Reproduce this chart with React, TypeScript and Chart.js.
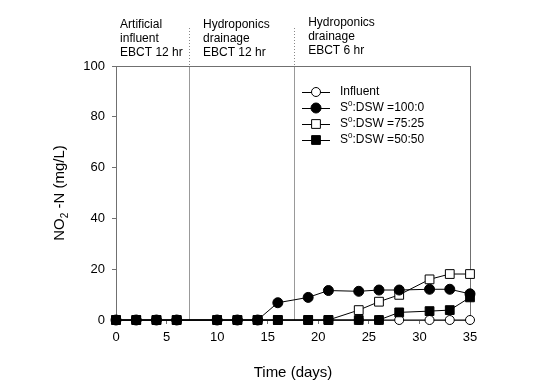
import React, { useEffect, useRef } from "react";
import { Chart, registerables } from "chart.js";

Chart.register(...registerables);

const days = [0, 2, 4, 6, 10, 12, 14, 16, 19, 21, 24, 26, 28, 31, 33, 35];
const influent = [0, 0, 0, 0, 0, 0, 0, 0, 0, 0, 0, 0, 0, 0, 0, 0];
const ratio100 = [0, 0, 0, 0, 0, 0, 0, 6.8, 8.9, 11.6, 11.3, 11.8, 11.8, 12.1, 12.1, 10.3];
const ratio75 = [0, 0, 0, 0, 0, 0, 0, 0, 0, 0, 3.9, 7.2, 9.9, 16.0, 18.1, 18.1];
const ratio50 = [0, 0, 0, 0, 0, 0, 0, 0, 0, 0, 0, 0, 3.0, 3.5, 3.9, 8.9];

const seriesLabels = ["Influent", "S⁰:DSW =100:0", "S⁰:DSW =75:25", "S⁰:DSW =50:50"];
const xTicks = [0, 5, 10, 15, 20, 25, 30, 35];
const yTicks = [0, 20, 40, 60, 80, 100];
const phaseBoundaries = [7.2, 17.6];
const phaseLabels = [
  ["Artificial", "influent", "EBCT 12 hr"],
  ["Hydroponics", "drainage", "EBCT 12 hr"],
  ["Hydroponics", "drainage", "EBCT 6 hr"],
];
const phaseLabelDays = [0.4, 8.6, 19.0];

const FONT = "'Liberation Sans', Arial, sans-serif";

const pts = (ys: number[]) => days.map((d, i) => ({ x: d, y: ys[i] }));

const styles = [
  { pointStyle: "circle", fill: "#ffffff", radius: 4.5 },
  { pointStyle: "circle", fill: "#000000", radius: 5 },
  { pointStyle: "rect", fill: "#ffffff", radius: 6.2 },
  { pointStyle: "rect", fill: "#000000", radius: 6.2 },
];

function drawLabelWithSup(ctx: CanvasRenderingContext2D, text: string, x: number, y: number, size: number) {
  const parts = text.split("⁰");
  let cx = x;
  parts.forEach((p, i) => {
    ctx.font = `${size}px ${FONT}`;
    ctx.textBaseline = "middle";
    ctx.fillText(p, cx, y);
    cx += ctx.measureText(p).width;
    if (i < parts.length - 1) {
      ctx.font = `${Math.round(size * 0.65)}px ${FONT}`;
      ctx.fillText("0", cx, y - size * 0.35);
      cx += ctx.measureText("0").width;
    }
  });
}

const decorPlugin = {
  id: "decor",
  beforeDatasetsDraw(chart: any) {
    const { ctx, chartArea, scales } = chart;
    const xs = scales.x;
    ctx.save();
    phaseBoundaries.forEach((d) => {
      const px = Math.round(xs.getPixelForValue(d)) + 0.5;
      ctx.strokeStyle = "#999999";
      ctx.lineWidth = 1;
      ctx.setLineDash([]);
      ctx.beginPath();
      ctx.moveTo(px, chartArea.top);
      ctx.lineTo(px, chartArea.bottom);
      ctx.stroke();
      ctx.strokeStyle = "#888888";
      ctx.setLineDash([1, 2]);
      ctx.beginPath();
      ctx.moveTo(px, 28);
      ctx.lineTo(px, chartArea.top);
      ctx.stroke();
    });
    ctx.setLineDash([]);
    ctx.strokeStyle = "#707070";
    ctx.lineWidth = 1;
    ctx.strokeRect(
      Math.round(chartArea.left) + 0.5,
      Math.round(chartArea.top) + 0.5,
      Math.round(chartArea.right - chartArea.left),
      Math.round(chartArea.bottom - chartArea.top)
    );
    ctx.restore();
  },
  afterDraw(chart: any) {
    const { ctx, chartArea, scales } = chart;
    const xs = scales.x;
    ctx.save();
    ctx.fillStyle = "#000000";
    ctx.font = `12px ${FONT}`;
    ctx.textAlign = "left";
    ctx.textBaseline = "middle";
    phaseLabels.forEach((lines, i) => {
      const px = xs.getPixelForValue(phaseLabelDays[i]);
      const y0 = i === 2 ? 23 : 25;
      lines.forEach((t, j) => ctx.fillText(t, px, y0 + j * 14));
    });
    ctx.font = `15px ${FONT}`;
    ctx.textAlign = "center";
    ctx.fillText("Time (days)", (chartArea.left + chartArea.right) / 2, 373);
    ctx.translate(60, (chartArea.top + chartArea.bottom) / 2);
    ctx.rotate(-Math.PI / 2);
    const big = `15px ${FONT}`;
    const small = `10px ${FONT}`;
    const segs = [
      { t: "NO", f: big, dy: 0 },
      { t: "2", f: small, dy: 5 },
      { t: " -N (mg/L)", f: big, dy: 0 },
    ];
    let total = 0;
    segs.forEach((s) => {
      ctx.font = s.f;
      total += ctx.measureText(s.t).width;
    });
    let cx = -total / 2;
    ctx.textAlign = "left";
    segs.forEach((s) => {
      ctx.font = s.f;
      ctx.fillText(s.t, cx, s.dy);
      cx += ctx.measureText(s.t).width;
    });
    ctx.restore();

    ctx.save();
    const rows = [92, 108, 124, 140];
    seriesLabels.forEach((lab, i) => {
      const y = rows[i];
      ctx.strokeStyle = "#000000";
      ctx.lineWidth = 1;
      ctx.beginPath();
      ctx.moveTo(302, y + 0.5);
      ctx.lineTo(330, y + 0.5);
      ctx.stroke();
      const st = styles[i];
      ctx.fillStyle = st.fill;
      ctx.beginPath();
      if (st.pointStyle === "circle") {
        ctx.arc(316, y, st.radius, 0, Math.PI * 2);
      } else {
        const s = st.radius * Math.SQRT1_2;
        ctx.rect(316 - s, y - s, 2 * s, 2 * s);
      }
      ctx.fill();
      ctx.stroke();
      ctx.fillStyle = "#000000";
      drawLabelWithSup(ctx, lab, 340, y, 12);
    });
    ctx.restore();
  },
};

export default function App() {
  const ref = useRef<HTMLCanvasElement | null>(null);
  useEffect(() => {
    document.body.style.margin = "0";
    Chart.defaults.font.family = FONT;
    const seriesData = [influent, ratio100, ratio75, ratio50];
    const orders = [3, 0, 2, 1];
    const chart = new Chart(ref.current as HTMLCanvasElement, {
      type: "line",
      data: {
        datasets: seriesData.map((ys, i) => ({
          label: seriesLabels[i],
          data: pts(ys),
          order: orders[i],
          clip: false as any,
          borderColor: "#000000",
          borderWidth: 1,
          pointStyle: styles[i].pointStyle as any,
          pointRadius: styles[i].radius,
          pointBackgroundColor: styles[i].fill,
          pointBorderColor: "#000000",
          pointBorderWidth: 1,
          fill: false,
          tension: 0,
        })),
      },
      options: {
        responsive: false,
        animation: false,
        events: [],
        layout: { padding: { left: 0, right: 64, top: 66, bottom: 0 } },
        plugins: { legend: { display: false }, tooltip: { enabled: false }, title: { display: false } },
        scales: {
          x: {
            type: "linear",
            min: 0,
            max: 35,
            afterFit: (s: any) => {
              s.height = 64;
            },
            afterBuildTicks: (s: any) => {
              s.ticks = xTicks.map((v) => ({ value: v }));
            },
            ticks: { color: "#000000", font: { size: 13, family: FONT }, padding: 6, maxRotation: 0 },
            grid: { display: true, drawOnChartArea: false, tickLength: 4, color: "#707070" },
            border: { display: true, color: "#707070" },
          },
          y: {
            type: "linear",
            min: 0,
            max: 100,
            afterFit: (s: any) => {
              s.width = 116;
            },
            afterBuildTicks: (s: any) => {
              s.ticks = yTicks.map((v) => ({ value: v }));
            },
            ticks: { color: "#000000", font: { size: 13, family: FONT }, padding: 7 },
            grid: { display: true, drawOnChartArea: false, tickLength: 4, color: "#707070" },
            border: { display: true, color: "#707070" },
          },
        },
      },
      plugins: [decorPlugin],
    });
    return () => chart.destroy();
  }, []);
  return (
    <div style={{ position: "absolute", left: 0, top: 0, width: 534, height: 384, background: "#ffffff" }}>
      <canvas ref={ref} width={534} height={384} style={{ width: 534, height: 384 }} />
    </div>
  );
}
